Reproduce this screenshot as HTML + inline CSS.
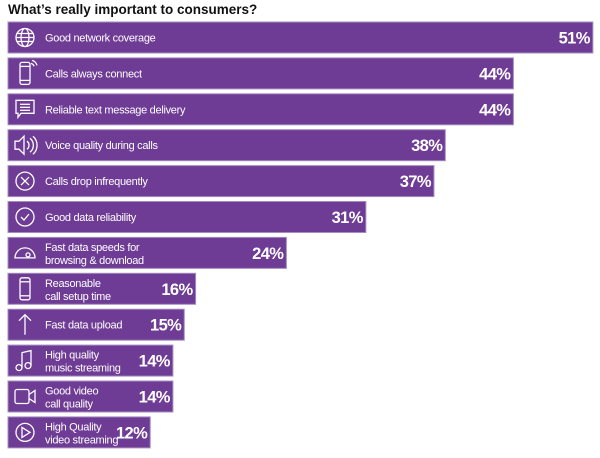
<!DOCTYPE html>
<html><head><meta charset="utf-8"><style>
body{margin:0;background:#fff;width:600px;height:458px;overflow:hidden;font-family:"Liberation Sans",sans-serif}
#title{position:absolute;left:8px;top:2px;font-size:13.5px;font-weight:bold;color:#111}
</style></head><body>
<div id="title">What’s really important to consumers?</div>
<svg id="chart" width="600" height="458" style="position:absolute;left:0;top:0"></svg>
<script>
const labels=[["Good network coverage"],["Calls always connect"],["Reliable text message delivery"],["Voice quality during calls"],["Calls drop infrequently"],["Good data reliability"],["Fast data speeds for","browsing & download"],["Reasonable","call setup time"],["Fast data upload"],["High quality","music streaming"],["Good video","call quality"],["High Quality","video streaming"]];
const values=[51,44,44,38,37,31,24,16,15,14,14,12];
const icons=["globe","phone","msg","speaker","x","check","gauge","phone2","arrow","music","video","play"];
const NS="http://www.w3.org/2000/svg";
const svg=document.getElementById('chart');
const x0=8,xs=v=>14+v*11.35;
const yTop=i=>22+i*35.9,bh=31;
function mk(t,a,p){const e=document.createElementNS(NS,t);for(const k in a)e.setAttribute(k,a[k]);(p||svg).appendChild(e);return e;}
function icon(type,cx,cy,g){const s={fill:"none",stroke:"#fff","stroke-width":1.3};
 const c=(o)=>mk(o.t,Object.assign({},s,o.a),g);
 if(type=="globe"){c({t:"circle",a:{cx,cy,r:9}});c({t:"ellipse",a:{cx,cy,rx:4,ry:9}});c({t:"line",a:{x1:cx-9,y1:cy,x2:cx+9,y2:cy}});c({t:"line",a:{x1:cx-8,y1:cy-4,x2:cx+8,y2:cy-4}});c({t:"line",a:{x1:cx-8,y1:cy+4,x2:cx+8,y2:cy+4}});}
 else if(type=="phone"||type=="phone2"){c({t:"rect",a:{x:cx-5,y:cy-11,width:10,height:22,rx:2}});c({t:"line",a:{x1:cx-5,y1:cy+7,x2:cx+5,y2:cy+7}});c({t:"line",a:{x1:cx-5,y1:cy-7,x2:cx+5,y2:cy-7}});if(type=="phone")c({t:"path",a:{d:`M${cx+6} ${cy-10}a4 4 0 0 1 3 3M${cx+7} ${cy-13}a7 7 0 0 1 5 5`}});}
 else if(type=="msg"){c({t:"path",a:{d:`M${cx-9} ${cy-9}h18v13h-13l-3 4v-4h-2z`}});for(let k=0;k<3;k++)c({t:"line",a:{x1:cx-5,y1:cy-5+k*3,x2:cx+5,y2:cy-5+k*3}});}
 else if(type=="speaker"){c({t:"path",a:{d:`M${cx-10} ${cy-4}h4l5-5v18l-5-5h-4z`}});c({t:"path",a:{d:`M${cx+2} ${cy-4}a5 5 0 0 1 0 8M${cx+5} ${cy-7}a9 9 0 0 1 0 14M${cx+8} ${cy-9}a12 12 0 0 1 0 18`}});}
 else if(type=="x"){c({t:"circle",a:{cx,cy,r:9}});c({t:"path",a:{d:`M${cx-4} ${cy-4}l8 8M${cx+4} ${cy-4}l-8 8`}});}
 else if(type=="check"){c({t:"circle",a:{cx,cy,r:9}});c({t:"path",a:{d:`M${cx-4} ${cy}l3 3l5 -6`}});}
 else if(type=="gauge"){c({t:"path",a:{d:`M${cx-10} ${cy+5}a10 10 0 1 1 20 0z`}});c({t:"circle",a:{cx:cx+3,cy:cy+2,r:2}});}
 else if(type=="arrow"){c({t:"path",a:{d:`M${cx} ${cy+10}v-20M${cx-6} ${cy-4}l6-6l6 6`}});}
 else if(type=="music"){c({t:"path",a:{d:`M${cx-3} ${cy+7}v-15l9-2v15`}});c({t:"circle",a:{cx:cx-6,cy:cy+7,r:3}});c({t:"circle",a:{cx:cx+3,cy:cy+5,r:3}});}
 else if(type=="video"){c({t:"rect",a:{x:cx-10,y:cy-7,width:14,height:14,rx:2}});c({t:"path",a:{d:`M${cx+4} ${cy-2}l6-4v12l-6-4`}});}
 else if(type=="play"){c({t:"circle",a:{cx,cy,r:9}});c({t:"path",a:{d:`M${cx-3} ${cy-5}l8 5l-8 5z`}});}
}
values.forEach((v,i)=>{
 const y=yTop(i),w=xs(v)-x0;
 const g=mk("g",{});
 
 
 const r=mk("rect",{x:x0,y:y,width:w,height:bh,fill:"#6e3b95",stroke:"#a58cc0","stroke-width":1},g);
 
 
 const ig=mk("g",{},g);
 
 
 icon(icons[i],25,y+bh/2,ig);
 const L=labels[i];
 L.forEach((s,k)=>{
  const t=mk("text",{x:45,y:y+bh/2+4+(L.length==2?(k==0?-6:7):0),fill:"#fff","font-size":11,"letter-spacing":"-0.3","font-family":"Liberation Sans, sans-serif"},g);
  t.textContent=s;
  
  
 });
 const p=mk("text",{x:x0+w-3,y:y+bh/2+6,fill:"#fff","font-size":16.5,"font-weight":"bold","letter-spacing":"-0.6","text-anchor":"end","font-family":"Liberation Sans, sans-serif"},g);
 p.textContent=v+"%";
 
 
});
</script>
</body></html>
